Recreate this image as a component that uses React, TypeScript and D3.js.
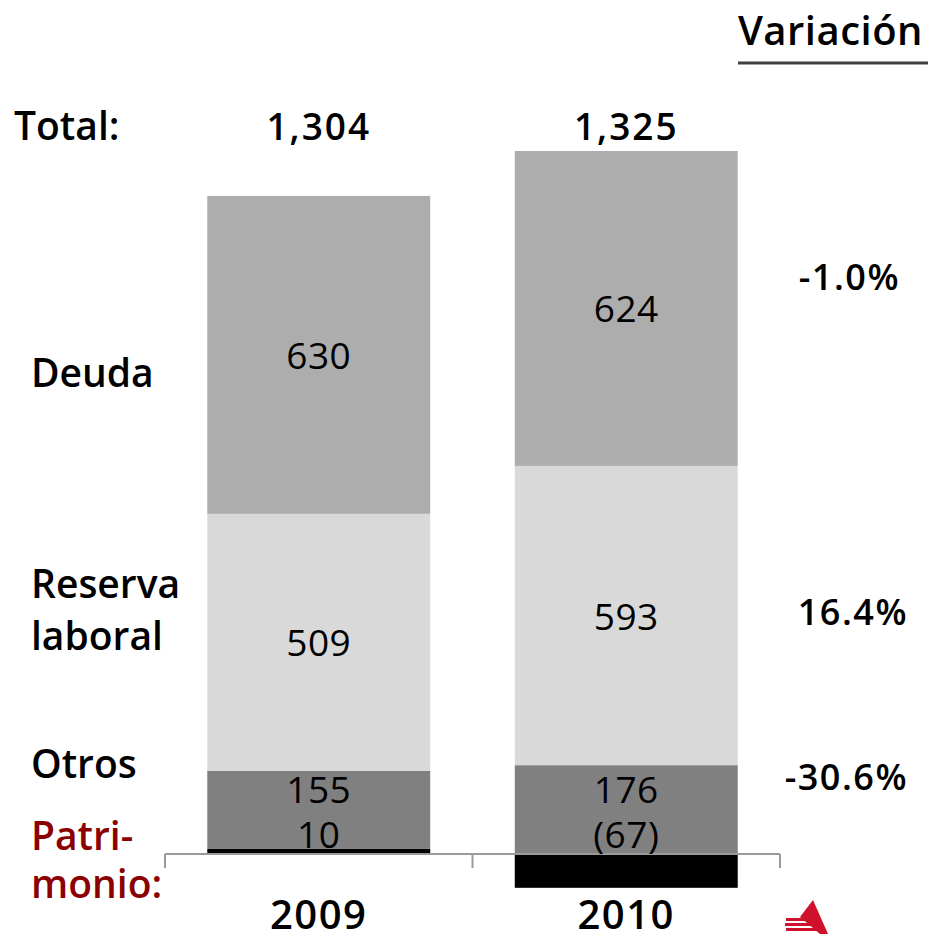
import React from "react";
import * as d3 from "d3";

const years = ["2009", "2010"];
const deuda = [630, 624];
const reserva = [509, 593];
const otros = [155, 176];
const patrimonio = [10, -67];
const totals = ["1,304", "1,325"];
const variaciones = ["-1.0%", "16.4%", "-30.6%"];
const seriesNames = ["Deuda", "Reserva laboral", "Otros", "Patrimonio"];

const W = 928;
const H = 937;
const FONT = "'Open Sans', 'Noto Sans', sans-serif";

export default function App() {
  const x = d3.scaleBand<string>().domain(years).range([165, 780]).paddingInner(0).paddingOuter(0);
  const y = d3.scaleLinear().domain([0, 1393]).range([854, 151]);
  const barW = x.bandwidth() * 0.725;

  const rows = years.map((yr, i) => ({
    year: yr,
    patrimonio: patrimonio[i],
    otros: otros[i],
    reserva: reserva[i],
    deuda: deuda[i],
  }));

  const colors: Record<string, string> = {
    patrimonio: "#000000",
    otros: "#808080",
    reserva: "#d9d9d9",
    deuda: "#adadad",
  };

  const segs: { key: string; x: number; y0: number; y1: number; value: number; i: number }[] = [];
  rows.forEach((r, i) => {
    let pos = 0;
    const order = ["patrimonio", "otros", "reserva", "deuda"] as const;
    order.forEach((k) => {
      const v = (r as any)[k] as number;
      const bx = x(r.year)! + (x.bandwidth() - barW) / 2;
      if (v >= 0) {
        segs.push({ key: k, x: bx, y0: pos, y1: pos + v, value: v, i });
        pos += v;
      } else {
        segs.push({ key: k, x: bx, y0: v, y1: 0, value: v, i });
      }
    });
  });

  const cx = (i: number) => x(years[i])! + x.bandwidth() / 2;
  const fmt = (v: number) => (v < 0 ? `(${Math.abs(v)})` : `${v}`);
  const y0px = y(0);

  return (
    <svg width={W} height={H} style={{ position: "absolute", left: 0, top: 0, background: "#fff" }} fontFamily={FONT}>
      {segs.map((s, k) => (
        <rect key={k} x={s.x} y={y(s.y1)} width={barW} height={y(s.y0) - y(s.y1)} fill={colors[s.key]} />
      ))}

      <g stroke="#9a9a9a" strokeWidth={2} fill="none">
        <line x1={x.range()[0]} x2={x.range()[1]} y1={y0px} y2={y0px} />
        {[x.range()[0], ...years.map((yr) => x(yr)! + x.bandwidth())].map((t, k) => (
          <line key={k} x1={t} x2={t} y1={y0px} y2={y0px + 14} />
        ))}
      </g>

      <g fontSize={37} fontWeight={500} textAnchor="middle" fill="#000" letterSpacing={0.5}>
        {rows.map((r, i) => {
          const pPos = Math.max(r.patrimonio, 0);
          const rMid = y(pPos + r.otros + r.reserva / 2);
          const dMid = y(pPos + r.otros + r.reserva + r.deuda / 2);
          return (
            <g key={i}>
              <text x={cx(i)} y={dMid + 14}>{fmt(r.deuda)}</text>
              <text x={cx(i)} y={rMid + 14}>{fmt(r.reserva)}</text>
              <text x={cx(i)} y={y0px - 51}>{fmt(r.otros)}</text>
              <text x={cx(i)} y={y0px - 6}>{fmt(r.patrimonio)}</text>
            </g>
          );
        })}
      </g>

      <text x={14} y={140} fontSize={39} fontWeight={600}>Total:</text>
      <g fontSize={37} fontWeight={600} textAnchor="middle" letterSpacing={2}>
        {totals.map((t, i) => (
          <text key={i} x={cx(i)} y={140}>{t}</text>
        ))}
      </g>

      <g fontSize={40} fontWeight={600} textAnchor="middle" letterSpacing={1.5}>
        {years.map((yr, i) => (
          <text key={yr} x={cx(i)} y={929}>{yr}</text>
        ))}
      </g>

      <g fontSize={39} fontWeight={600}>
        <text x={31} y={387}>{seriesNames[0]}</text>
        <text x={31} y={598}>{seriesNames[1].split(" ")[0]}</text>
        <text x={31} y={650}>{seriesNames[1].split(" ")[1]}</text>
        <text x={31} y={778}>{seriesNames[2]}</text>
        <text x={31} y={850} fill="#8b0000">Patri-</text>
        <text x={31} y={898} fill="#8b0000">monio:</text>
      </g>

      <text x={923} y={45} fontSize={40} fontWeight={600} textAnchor="end" letterSpacing={0.5}>Variación</text>
      <line x1={738} x2={928} y1={63} y2={63} stroke="#404040" strokeWidth={3} />

      <g fontSize={36} fontWeight={600} textAnchor="end" letterSpacing={1.5}>
        <text x={900} y={290}>{variaciones[0]}</text>
        <text x={908} y={625}>{variaciones[1]}</text>
        <text x={908} y={790}>{variaciones[2]}</text>
      </g>

      <g fill="#d0112b">
        <path d="M800,917 L813,900 L828,934 L820,934 Z" />
        <rect x={786} y={918} width={34} height={3} />
        <rect x={785} y={923} width={37} height={3} />
        <rect x={786} y={928} width={38} height={3} />
      </g>
    </svg>
  );
}
